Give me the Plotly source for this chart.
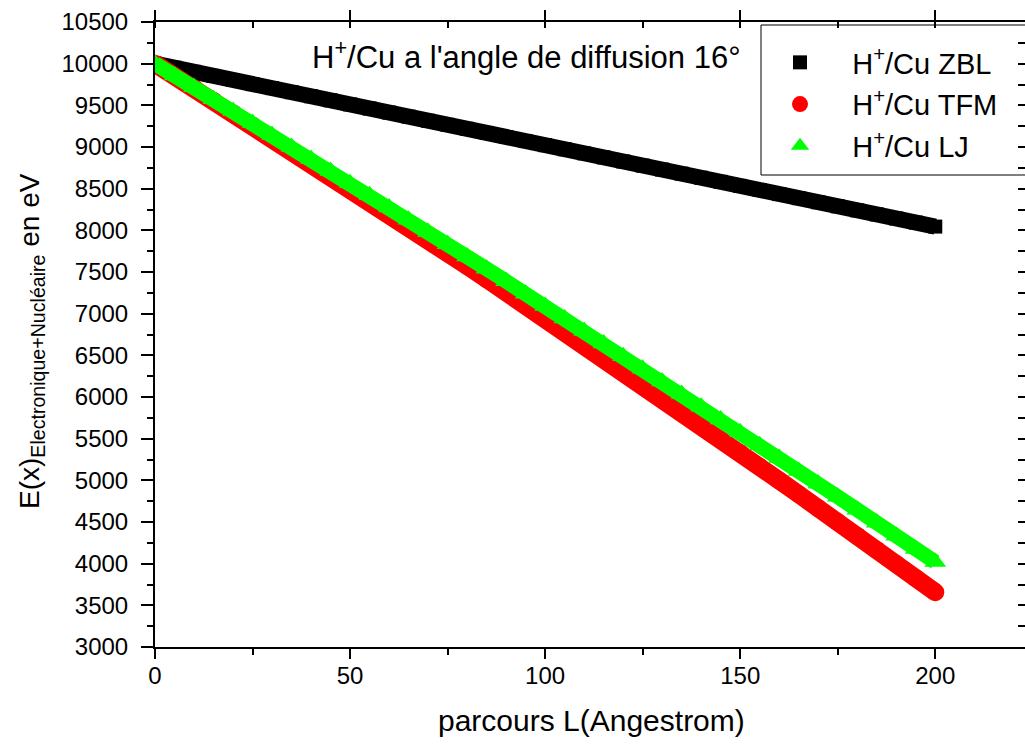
import plotly.graph_objects as go

# parcours L (Angstrom)
x_L = [0, 5, 10, 15, 20, 25, 30, 35, 40, 45, 50, 55, 60, 65, 70, 75, 80, 85, 90, 95, 100,
       105, 110, 115, 120, 125, 130, 135, 140, 145, 150, 155, 160, 165, 170, 175, 180, 185, 190, 195, 200]

E_zbl = [10000, 9951, 9902, 9853, 9804, 9755, 9707, 9658, 9609, 9560, 9511,
         9462, 9413, 9364, 9315, 9266, 9218, 9169, 9120, 9071, 9022,
         8973, 8924, 8875, 8826, 8777, 8729, 8680, 8631, 8582, 8533,
         8484, 8435, 8386, 8337, 8288, 8240, 8191, 8142, 8093, 8045]

E_tfm = [10000, 9852, 9704, 9555, 9406, 9256, 9106, 8955, 8803, 8651, 8499,
         8346, 8192, 8038, 7883, 7728, 7572, 7415, 7258, 7100, 6942,
         6783, 6624, 6464, 6303, 6142, 5980, 5818, 5655, 5492, 5328,
         5163, 4998, 4833, 4667, 4500, 4333, 4165, 3996, 3827, 3658]

E_lj = [10000, 9858, 9716, 9574, 9431, 9288, 9144, 9000, 8856, 8711, 8566,
        8420, 8274, 8128, 7981, 7834, 7686, 7538, 7389, 7240, 7091,
        6941, 6791, 6641, 6490, 6339, 6187, 6035, 5882, 5729, 5576,
        5422, 5268, 5113, 4958, 4803, 4647, 4491, 4334, 4177, 4020]

NB = "\u00a0" * 4
names = [NB + "H<sup>+</sup>/Cu ZBL", NB + "H<sup>+</sup>/Cu TFM", NB + "H<sup>+</sup>/Cu LJ"]
colors = ["#000000", "#ff0000", "#00ff00"]
symbols = ["square", "circle", "triangle-up"]
msizes = [14, 18, 19]
lwidths = [16, 18, 15]

FONT = "Liberation Sans, Arial, sans-serif"

fig = go.Figure()
for i, ys in enumerate([E_zbl, E_tfm, E_lj]):
    fig.add_trace(go.Scatter(x=x_L, y=ys, mode="lines", showlegend=False,
                             line=dict(color=colors[i], width=lwidths[i]),
                             hoverinfo="skip", legendgroup=str(i)))
    fig.add_trace(go.Scatter(x=x_L, y=ys, mode="markers", name=names[i],
                             legendgroup=str(i),
                             marker=dict(symbol=symbols[i], color=colors[i],
                                         size=msizes[i], line=dict(width=0))))

# dummy traces for mirror axes
fig.add_trace(go.Scatter(x=[None], y=[None], xaxis="x2", yaxis="y", showlegend=False))
fig.add_trace(go.Scatter(x=[None], y=[None], xaxis="x", yaxis="y2", showlegend=False))

def px_x(p):
    return (p - 155) / 870

def px_y(p):
    return 1 - (p - 22) / 625

fig.update_layout(
    width=1025, height=744,
    margin=dict(l=155, r=0, t=22, b=97),
    paper_bgcolor="white", plot_bgcolor="white",
    font=dict(family=FONT, color="black", size=24),
    xaxis=dict(range=[0, 223], dtick=50, tick0=0, showgrid=False, zeroline=False,
               showline=True, linecolor="black", linewidth=2,
               ticks="outside", ticklen=10, tickwidth=2, tickcolor="black",
               minor=dict(dtick=25, ticks="outside", ticklen=6, tickwidth=2, tickcolor="black"),
               tickfont=dict(size=24), tickformat="d", ticklabelstandoff=-4),
    xaxis2=dict(range=[0, 223], dtick=50, tick0=0, overlaying="x", side="top",
                showgrid=False, zeroline=False, showticklabels=False,
                showline=True, linecolor="black", linewidth=2,
                ticks="outside", ticklen=10, tickwidth=2, tickcolor="black",
                minor=dict(dtick=25, ticks="inside", ticklen=6, tickwidth=2, tickcolor="black")),
    yaxis=dict(range=[3000, 10500], dtick=500, tick0=3000, showgrid=False, zeroline=False,
               showline=True, linecolor="black", linewidth=2,
               ticks="outside", ticklen=12, tickwidth=2, tickcolor="black",
               minor=dict(dtick=250, ticks="outside", ticklen=6, tickwidth=2, tickcolor="black"),
               tickfont=dict(size=24), tickformat="d", ticklabelstandoff=8),
    yaxis2=dict(range=[3000, 10500], dtick=250, tick0=3000, overlaying="y", side="right",
                showgrid=False, zeroline=False, showticklabels=False, showline=False,
                ticks="inside", ticklen=7, tickwidth=2, tickcolor="black"),
    legend=dict(x=px_x(780), y=px_y(37), xanchor="left", yanchor="top",
                borderwidth=0, bgcolor="rgba(0,0,0,0)",
                font=dict(size=29, family=FONT), traceorder="grouped",
                tracegroupgap=1, entrywidth=240, itemsizing="trace"),
    shapes=[dict(type="rect", xref="paper", yref="paper",
                 x0=px_x(761), x1=1.05, y0=px_y(175), y1=px_y(25),
                 line=dict(color="black", width=1), fillcolor="rgba(0,0,0,0)")],
    annotations=[
        dict(text="H<sup>+</sup>/Cu a l'angle de diffusion 16°",
             xref="paper", yref="paper", x=px_x(310), y=px_y(55),
             xanchor="left", yanchor="middle", showarrow=False,
             font=dict(size=31, family=FONT)),
        dict(text="parcours L(Angestrom)",
             xref="paper", yref="paper", x=px_x(591), y=px_y(720),
             xanchor="center", yanchor="middle", showarrow=False,
             font=dict(size=30, family=FONT)),
        dict(text="E(x)<sub>Electronique+Nucléaire</sub> en eV",
             xref="paper", yref="paper", x=px_x(31), y=px_y(341),
             xanchor="center", yanchor="middle", showarrow=False, textangle=-90,
             font=dict(size=28, family=FONT)),
    ],
)

fig.write_html("out.html")
